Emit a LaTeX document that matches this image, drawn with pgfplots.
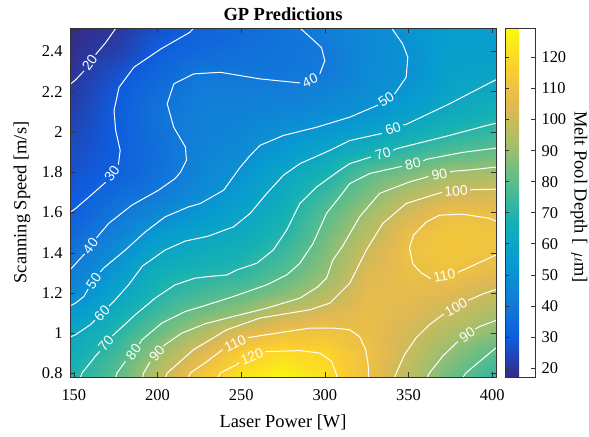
\documentclass[border=0pt]{standalone}
\usepackage{fontspec}
\setmainfont{Liberation Serif}
\newfontfamily\clabfont{Liberation Sans}
\usepackage{pgfplots}
\usepackage{pgfplotstable}
\pgfplotsset{compat=1.18}

\pgfplotstableread{
x y z
147.7 0.783 68.5
175 0.783 79.5
200 0.783 97.5
225 0.783 112.5
250 0.783 123.5
275 0.783 128
300 0.783 122
325 0.783 110
350 0.783 97
375 0.783 83
402.3 0.783 72
147.7 0.9 64.5
175 0.9 74.8
200 0.9 90
225 0.9 103.5
250 0.9 115.5
275 0.9 121
300 0.9 118.9
325 0.9 110
350 0.9 99.5
375 0.9 88.5
402.3 0.9 79
147.7 1.0 59.4
175 1.0 70.1
200 1.0 82.5
225 1.0 93.5
250 1.0 104.5
275 1.0 110.6
300 1.0 111.8
325 1.0 108
350 1.0 102
375 1.0 94
402.3 1.0 87.5
147.7 1.1 52.9
175 1.1 64.1
200 1.1 75
225 1.1 83.5
250 1.1 89.5
275 1.1 99
300 1.1 103.5
325 1.1 107.5
350 1.1 104.5
375 1.1 99.5
402.3 1.1 93
147.7 1.2 46.8
175 1.2 58.5
200 1.2 69.2
225 1.2 75
250 1.2 79.5
275 1.2 86.2
300 1.2 95.2
325 1.2 106
350 1.2 106.5
375 1.2 105
402.3 1.2 99
147.7 1.3 41.8
175 1.3 53.6
200 1.3 65.5
225 1.3 69
250 1.3 71.5
275 1.3 79
300 1.3 88.9
325 1.3 104
350 1.3 108.5
375 1.3 110
402.3 1.3 106
147.7 1.4 37.6
175 1.4 48.7
200 1.4 59.2
225 1.4 63.5
250 1.4 67
275 1.4 74
300 1.4 85.7
325 1.4 100.5
350 1.4 109.8
375 1.4 112.5
402.3 1.4 110.3
147.7 1.5 34
175 1.5 43.7
200 1.5 53.5
225 1.5 58.5
250 1.5 62.5
275 1.5 69.3
300 1.5 82.5
325 1.5 95.8
350 1.5 108
375 1.5 112.5
402.3 1.5 111.5
147.7 1.6 30.4
175 1.6 38.9
200 1.6 46
225 1.6 52.5
250 1.6 58.5
275 1.6 66.1
300 1.6 78.9
325 1.6 91
350 1.6 102
375 1.6 109
402.3 1.6 108.5
147.7 1.7 28.5
175 1.7 35
200 1.7 40.2
225 1.7 47.5
250 1.7 54.5
275 1.7 62.8
300 1.7 73.1
325 1.7 84.7
350 1.7 94
375 1.7 100
402.3 1.7 101.3
147.7 1.8 27
175 1.8 31.2
200 1.8 37.5
225 1.8 45
250 1.8 51
275 1.8 59.2
300 1.8 66.9
325 1.8 78.8
350 1.8 84
375 1.8 90.4
402.3 1.8 92
147.7 1.9 25.6
175 1.9 30.3
200 1.9 37
225 1.9 44
250 1.9 47.5
275 1.9 54.2
300 1.9 60
325 1.9 67.2
350 1.9 72.5
375 1.9 78.5
402.3 1.9 81.5
147.7 2.0 24
175 2.0 30.2
200 2.0 37.5
225 2.0 43.5
250 2.0 45.5
275 2.0 49.4
300 2.0 52.6
325 2.0 57.8
350 2.0 63.5
375 2.0 69
402.3 2.0 73
147.7 2.1 22.4
175 2.1 30.2
200 2.1 38
225 2.1 43
250 2.1 44
275 2.1 45.6
300 2.1 48
325 2.1 50.5
350 2.1 56.5
375 2.1 62.5
402.3 2.1 67
147.7 2.2 20.8
175 2.2 29
200 2.2 36.5
225 2.2 42
250 2.2 42
275 2.2 41.9
300 2.2 44.8
325 2.2 48.5
350 2.2 52.5
375 2.2 58.5
402.3 2.2 62
147.7 2.3 19.3
175 2.3 26.5
200 2.3 33.5
225 2.3 39.5
250 2.3 39.5
275 2.3 39.5
300 2.3 40.5
325 2.3 47.5
350 2.3 50
375 2.3 57.5
402.3 2.3 58.5
147.7 2.4 18.2
175 2.4 22.5
200 2.4 30.5
225 2.4 35
250 2.4 37.2
275 2.4 39.2
300 2.4 40.3
325 2.4 47
350 2.4 50.2
375 2.4 56.5
402.3 2.4 56.5
147.7 2.517 17
175 2.517 20
200 2.517 27
225 2.517 31.5
250 2.517 35
275 2.517 38.5
300 2.517 42.5
325 2.517 46.5
350 2.517 51
375 2.517 55
402.3 2.517 55
}\griddata

\pgfplotsset{
  colormap={parula}{rgb255=(53,42,135) rgb255=(15,92,221) rgb255=(18,125,216) rgb255=(7,156,207) rgb255=(21,177,180) rgb255=(89,189,140) rgb255=(165,190,107) rgb255=(225,185,82) rgb255=(252,206,46) rgb255=(249,251,14)},
  /pgf/number format/assume math mode=true,
  cl/.style={white, line width=1bp, forget plot},
}
\tikzset{
  lab/.style={text=white, font=\clabfont\fontsize{14}{14}\selectfont, inner sep=0pt},
}
\newcommand{\tickfont}{\fontsize{16.5}{18}\selectfont}
\newcommand{\labfont}{\fontsize{18.5}{20}\selectfont}

\begin{document}
\begin{tikzpicture}
\useasboundingbox (-70bp,-60bp) rectangle (519bp,377bp);
\begin{axis}[
  at={(0,0)}, anchor=south west,
  scale only axis, width=426bp, height=349bp,
  xmin=147.7, xmax=402.3, ymin=0.783, ymax=2.517,
  xtick={150,200,250,300,350,400},
  ytick={0.8,1,1.2,1.4,1.6,1.8,2,2.2,2.4},
  tick label style={font=\tickfont},
  xticklabel style={yshift=-9.5bp},
  yticklabel style={xshift=-4bp},
  label style={font=\labfont},
  xlabel={Laser Power [W]},
  ylabel={Scanning Speed [m/s]},
  xlabel style={at={(axis description cs:0.5,-0.129)}, anchor=center},
  ylabel style={at={(axis description cs:-0.1127,0.5)}, anchor=center},
  title={GP Predictions},
  title style={font=\bfseries\labfont, at={(axis description cs:0.5,1.0228)}, anchor=center},
  axis on top,
  axis line style={draw=black!80, line width=0.6bp},
  every tick/.style={draw=black!80, line width=0.6bp},
  major tick length=5bp,
  colormap name=parula,
  point meta min=17.1, point meta max=129.5,
  colorbar,
  colorbar style={
    scale only axis,
    width=30bp, height=349bp,
    at={(parent axis.north east)}, anchor=north west, xshift=0.5bp,
    ytick={20,30,40,50,60,70,80,90,100,110,120},
    yticklabel style={font=\tickfont, xshift=3bp},
    axis line style={draw=black!80, line width=0.6bp},
    major tick length=4bp,
  },
]
\addplot[surf, shader=interp, mesh/cols=11, point meta=\thisrow{z}] table[x=x, y=y] {\griddata};

% 20
\addplot[cl] coordinates {(175.2,2.517) (169.0,2.444) (163.0,2.385)};
\addplot[cl] coordinates {(156.1,2.304) (151.2,2.261) (147.7,2.236)};
\node[lab, rotate=55] at (axis cs:159.5,2.345) {20};
% 30
\addplot[cl] coordinates {(221.8,2.517) (219.2,2.495) (201.8,2.412) (185.9,2.322) (177.0,2.222) (174.0,2.107) (175.0,2.008) (177.7,1.909) (176.6,1.838)};
\addplot[cl] coordinates {(169.0,1.750) (159.5,1.681) (151.0,1.620) (147.7,1.600)};
\node[lab, rotate=55] at (axis cs:172.8,1.794) {30};
% 40
\addplot[cl] coordinates {(285.1,2.517) (288.1,2.495) (298.0,2.420) (300.0,2.354) (297.0,2.289)};
\addplot[cl] coordinates {(285.1,2.244) (261.3,2.264) (237.5,2.297) (221.6,2.289) (209.7,2.239) (205.8,2.140) (209.7,2.024) (216.7,1.925) (217.3,1.859) (213.7,1.800) (210.5,1.769) (200.6,1.711) (184.7,1.637) (170.8,1.546) (163.5,1.474)};
\addplot[cl] coordinates {(156.4,1.394) (154.0,1.373) (148.8,1.325) (147.7,1.316)};
\node[lab, rotate=24] at (axis cs:291.1,2.256) {40};
\node[lab, rotate=54] at (axis cs:159.9,1.434) {40};
% 50
\addplot[cl] coordinates {(339.9,2.517) (341.7,2.495) (346.6,2.437) (349.6,2.371) (348.6,2.272) (341.7,2.189)};
\addplot[cl] coordinates {(331.8,2.134) (314.9,2.074) (295.1,2.024) (275.2,1.983) (261.3,1.934) (255.4,1.884) (249.4,1.825) (239.5,1.711) (225.6,1.645) (218.5,1.628) (204.6,1.579) (192.7,1.504) (180.8,1.414) (167.9,1.325) (165.8,1.305)};
\addplot[cl] coordinates {(158.5,1.220) (156.0,1.183) (151.0,1.150) (147.7,1.136)};
\node[lab, rotate=34] at (axis cs:336.7,2.161) {50};
\node[lab, rotate=55] at (axis cs:161.9,1.260) {50};
% 60
\addplot[cl] coordinates {(147.7,0.981) (151.0,0.993) (159.9,1.043) (162.6,1.065)};
\addplot[cl] coordinates {(171.1,1.136) (173.8,1.158) (182.7,1.241) (191.1,1.335) (204.6,1.414) (216.5,1.458) (230.4,1.483) (245.4,1.529) (255.4,1.596) (265.3,1.695) (275.2,1.785) (285.1,1.843) (303.0,1.909) (314.9,1.958) (334.0,1.993)};
\addplot[cl] coordinates {(346.8,2.035) (348.6,2.038) (374.4,2.140) (399.2,2.247) (402.3,2.260)};
\node[lab, rotate=45] at (axis cs:166.8,1.100) {60};
\node[lab, rotate=20] at (axis cs:340.7,2.016) {60};
% 70
\addplot[cl] coordinates {(154.0,0.783) (154.9,0.803) (162.9,0.886) (165.4,0.910)};
\addplot[cl] coordinates {(173.0,0.987) (173.8,0.993) (186.7,1.092) (198.6,1.175) (210.5,1.241) (222.4,1.274) (230.4,1.282) (241.5,1.290) (247.4,1.315) (259.3,1.348) (269.2,1.414) (277.2,1.513) (285.1,1.645) (295.1,1.727) (308.9,1.810) (314.9,1.843) (327.5,1.876)};
\addplot[cl] coordinates {(340.9,1.909) (342.7,1.917) (374.4,1.983) (399.2,2.038) (402.3,2.043)};
\node[lab, rotate=50] at (axis cs:169.2,0.949) {70};
\node[lab, rotate=17] at (axis cs:334.7,1.893) {70};
% 80
\addplot[cl] coordinates {(175.0,0.783) (175.8,0.803) (180.8,0.861)};
\addplot[cl] coordinates {(189.3,0.947) (190.7,0.968) (202.6,1.051) (216.5,1.108) (228.0,1.137) (245.4,1.183) (265.3,1.241) (277.2,1.290) (285.1,1.348) (293.0,1.447) (301.0,1.596) (308.9,1.678) (314.9,1.744) (326.8,1.794) (346.2,1.830)};
\addplot[cl] coordinates {(358.9,1.856) (360.5,1.864) (382.3,1.899) (402.3,1.920)};
\addplot[cl] coordinates {(382.7,0.783) (384.3,0.803) (392.3,0.859) (402.3,0.928)};
\node[lab, rotate=53] at (axis cs:185.7,0.907) {80};
\node[lab, rotate=14] at (axis cs:352.6,1.843) {80};
% 90
\addplot[cl] coordinates {(191.1,0.783) (191.7,0.803) (195.5,0.857)};
\addplot[cl] coordinates {(203.4,0.936) (204.6,0.944) (214.5,1.001) (228.6,1.048) (245.4,1.084) (265.3,1.125) (285.1,1.175) (295.8,1.231) (301.0,1.274) (304.8,1.364) (310.7,1.434) (320.8,1.579) (332.7,1.695) (350.6,1.752) (362.0,1.779)};
\addplot[cl] coordinates {(374.9,1.801) (376.4,1.805) (388.3,1.813) (402.3,1.826)};
\addplot[cl] coordinates {(361.3,0.783) (362.5,0.803) (370.4,0.886) (379.5,0.960)};
\addplot[cl] coordinates {(390.0,1.021) (392.3,1.033) (402.3,1.064)};
\node[lab, rotate=50] at (axis cs:199.6,0.898) {90};
\node[lab, rotate=12] at (axis cs:368.5,1.790) {90};
\node[lab, rotate=35] at (axis cs:385.1,0.993) {90};
% 100
\addplot[cl] coordinates {(204.8,0.783) (205.8,0.803) (221.6,0.919) (241.5,1.018) (261.3,1.076) (291.1,1.117) (303.0,1.150) (314.9,1.249) (324.8,1.414) (334.7,1.546) (348.6,1.645) (370.1,1.701)};
\addplot[cl] coordinates {(386.7,1.713) (390.3,1.714) (402.3,1.716)};
\addplot[cl] coordinates {(341.7,0.783) (342.7,0.803) (347.6,0.894) (354.6,0.978) (362.5,1.043) (371.1,1.096)};
\addplot[cl] coordinates {(385.7,1.162) (386.3,1.166) (394.6,1.196) (402.3,1.218)};
\node[lab, rotate=5] at (axis cs:378.4,1.707) {100};
\node[lab, rotate=29] at (axis cs:378.4,1.129) {100};
% 110
\addplot[cl] coordinates {(218.5,0.783) (219.6,0.803) (228.6,0.854) (238.9,0.919)};
\addplot[cl] coordinates {(253.9,0.978) (261.3,0.988) (291.1,1.026) (304.9,1.026) (314.9,1.018) (320.8,0.983) (324.4,0.919) (325.9,0.845) (326.2,0.783)};
\addplot[cl] coordinates {(402.3,1.557) (398.2,1.572) (382.3,1.592) (368.5,1.587) (360.5,1.552) (353.0,1.488) (350.6,1.424) (352.6,1.345) (357.7,1.300) (363.3,1.272)};
\addplot[cl] coordinates {(379.5,1.303) (389.3,1.340) (398.2,1.374) (402.3,1.389)};
\node[lab, rotate=25] at (axis cs:246.4,0.949) {110};
\node[lab, rotate=13] at (axis cs:371.4,1.288) {110};
% 120
\addplot[cl] coordinates {(236.3,0.783) (237.5,0.803) (247.4,0.845) (248.7,0.855)};
\addplot[cl] coordinates {(264.5,0.909) (285.1,0.914) (297.0,0.902) (304.0,0.861) (307.0,0.795) (307.1,0.783)};
\node[lab, rotate=23] at (axis cs:256.4,0.884) {120};
\end{axis}
\node[rotate=-90, font=\labfont, anchor=center, inner sep=0pt] at (509bp,180bp) {Melt Pool Depth [\,\ $\mu$m]};
\end{tikzpicture}
\end{document}
